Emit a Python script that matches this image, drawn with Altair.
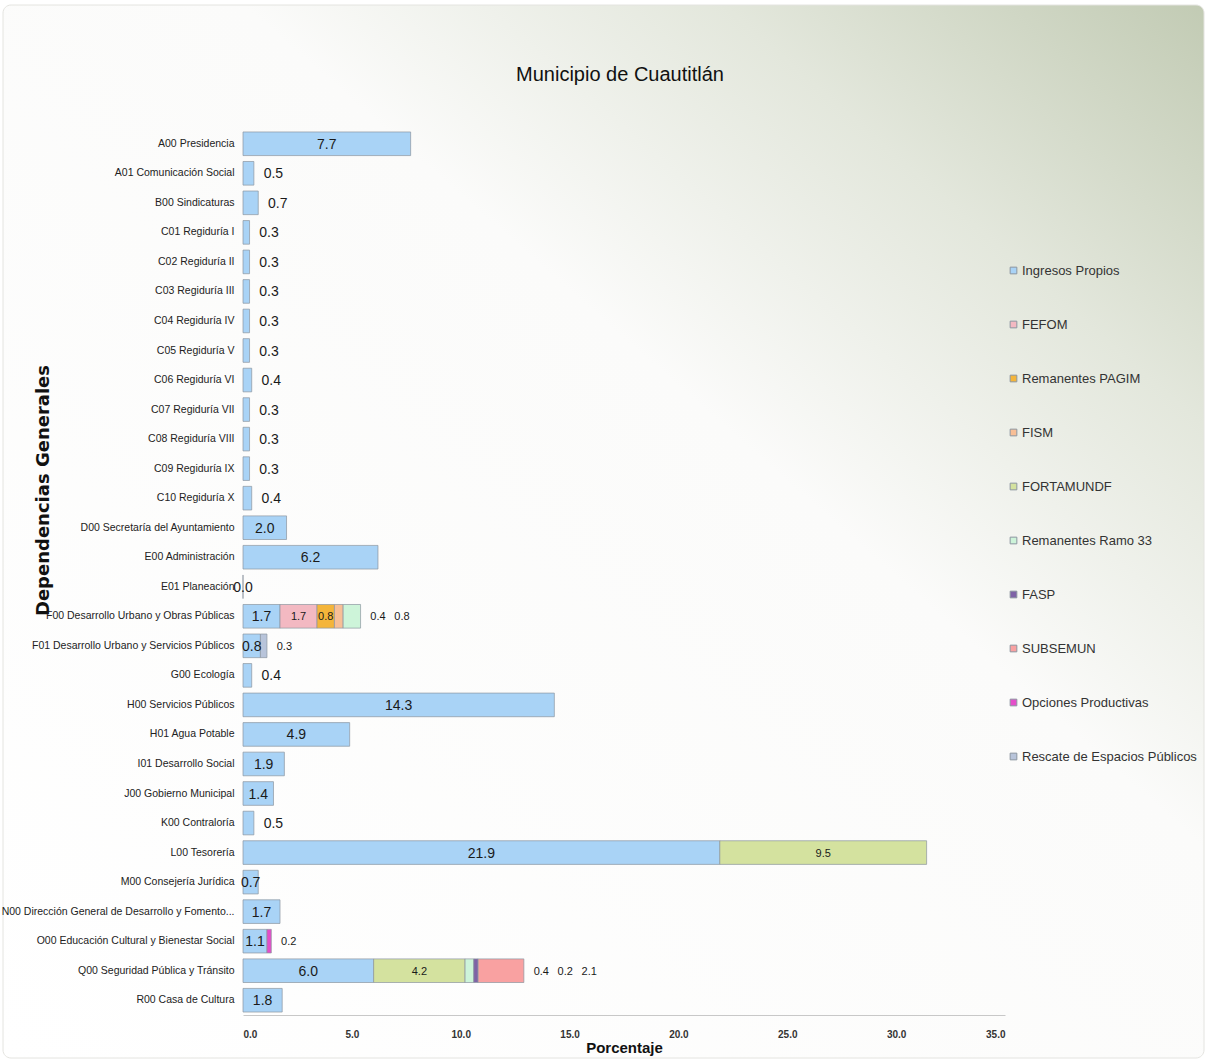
import altair as alt
import pandas as pd

# Dependencias (top to bottom)
dependencias = [
    "A00 Presidencia", "A01 Comunicación Social", "B00 Sindicaturas",
    "C01 Regiduría I", "C02 Regiduría II", "C03 Regiduría III", "C04 Regiduría IV",
    "C05 Regiduría V", "C06 Regiduría VI", "C07 Regiduría VII", "C08 Regiduría VIII",
    "C09 Regiduría IX", "C10 Regiduría X", "D00 Secretaría del Ayuntamiento",
    "E00 Administración", "E01 Planeación", "F00 Desarrollo Urbano y Obras Públicas",
    "F01 Desarrollo Urbano y Servicios Públicos", "G00 Ecología", "H00 Servicios Públicos",
    "H01 Agua Potable", "I01 Desarrollo Social", "J00 Gobierno Municipal",
    "K00 Contraloría", "L00 Tesorería", "M00 Consejería Jurídica",
    "N00 Dirección General de Desarrollo y Fomento...",
    "O00 Educación Cultural y Bienestar Social", "Q00 Seguridad Pública y Tránsito",
    "R00 Casa de Cultura",
]

# Ingresos Propios, one value per dependencia
ingresos_propios = [7.7, 0.5, 0.7, 0.3, 0.3, 0.3, 0.3, 0.3, 0.4, 0.3, 0.3, 0.3, 0.4, 2.0,
                    6.2, 0.0, 1.7, 0.8, 0.4, 14.3, 4.9, 1.9, 1.4, 0.5, 21.9, 0.7, 1.7,
                    1.1, 6.0, 1.8]

# Other funding sources (only where present)
fefom = {"F00": 1.7}
remanentes_pagim = {"F00": 0.8}
fism = {"F00": 0.4}
fortamundf = {"L00": 9.5, "Q00": 4.2}
remanentes_ramo33 = {"F00": 0.8, "Q00": 0.4}
fasp = {"Q00": 0.2}
subsemun = {"Q00": 2.1}
opciones_productivas = {"O00": 0.2}
rescate_espacios = {"F01": 0.3}

series = [
    ("Ingresos Propios", dict(zip([d[:3] for d in dependencias], ingresos_propios))),
    ("FEFOM", fefom),
    ("Remanentes PAGIM", remanentes_pagim),
    ("FISM", fism),
    ("FORTAMUNDF", fortamundf),
    ("Remanentes Ramo 33", remanentes_ramo33),
    ("FASP", fasp),
    ("SUBSEMUN", subsemun),
    ("Opciones Productivas", opciones_productivas),
    ("Rescate de Espacios Públicos", rescate_espacios),
]
colores = ["#A9D3F6", "#F3B9C2", "#F4B53A", "#F8BF96", "#D4E29F",
           "#CDF4D9", "#7E62A6", "#F9A1A1", "#E44EC9", "#B8C4DA"]

# labels drawn beside the bar instead of centred on the segment
beside_ingresos = {"A01", "B00", "C01", "C02", "C03", "C04", "C05", "C06", "C07",
                   "C08", "C09", "C10", "G00", "K00"}
centred_other = {("F00", "FEFOM"), ("F00", "Remanentes PAGIM"),
                 ("L00", "FORTAMUNDF"), ("Q00", "FORTAMUNDF")}

rows = []
labels = []
for dep in dependencias:
    code = dep[:3]
    start = 0.0
    segs = []
    for name, vals in series:
        if code in vals:
            v = vals[code]
            segs.append((name, v, start, start + v))
            start += v
    total = start
    k = 0
    for name, v, s, e in segs:
        rows.append({"dep": dep, "serie": name, "valor": v, "x0": s, "x1": e})
        big = name == "Ingresos Propios"
        if (big and code not in beside_ingresos) or (code, name) in centred_other:
            labels.append({"dep": dep, "txt": f"{v:.1f}", "lx": (s + e) / 2,
                           "align": "center", "fs": 14 if big else 11})
        else:
            labels.append({"dep": dep, "txt": f"{v:.1f}", "lx": total + 0.45 + k * 1.1,
                           "align": "left", "fs": 14 if big else 11})
            k += 1

df = pd.DataFrame(rows)
lab_in = pd.DataFrame([l for l in labels if l["align"] == "center"])
lab_out = pd.DataFrame([l for l in labels if l["align"] == "left"])

FONT = "Liberation Sans"
W, H = 762, 886
TITULO = "Municipio de Cuautitlán"

y_enc = alt.Y("dep:N", sort=dependencias, title="Dependencias Generales",
              scale=alt.Scale(paddingInner=0.2, paddingOuter=0.1),
              axis=alt.Axis(labelFont=FONT, labelFontSize=10.5, labelColor="#222222",
                            labelPadding=9, labelLimit=400, ticks=False, domain=False,
                            titleFont="DejaVu Sans", titleFontSize=18,
                            titleFontWeight="bold", titleColor="#111111",
                            titleAngle=270, titleAlign="center",
                            titleBaseline="middle", titleX=-200, titleY=361,
                            zindex=1))

x_scale = alt.Scale(domain=[0, 35], nice=False)

# page background with a soft grey-green corner
background = alt.Chart(alt.Data(values=[{}])).mark_rect(
    color=alt.Gradient(
        gradient="linear", x1=0, y1=1, x2=1, y2=0,
        stops=[alt.GradientStop(offset=0, color="#ffffff"),
               alt.GradientStop(offset=0.6, color="#fbfbfa"),
               alt.GradientStop(offset=0.8, color="#e3e7dc"),
               alt.GradientStop(offset=1, color="#c2cbb4")]),
    stroke="#e4e4e0", strokeWidth=1, cornerRadius=8,
).encode(x=alt.value(-240), x2=alt.value(W + 199),
         y=alt.value(-124), y2=alt.value(H + 43))

titulo = alt.Chart(alt.Data(values=[{}])).mark_text(
    font=FONT, fontSize=20, color="#111111", align="center", baseline="middle",
).encode(x=alt.value(W / 2 - 4), y=alt.value(-54), text=alt.value(TITULO))

bars = alt.Chart(df).mark_bar(stroke="#8c96a0", strokeWidth=1, strokeOpacity=0.7).encode(
    y=y_enc,
    x=alt.X("x0:Q", scale=x_scale, title="Porcentaje",
            axis=alt.Axis(values=[0, 5, 10, 15, 20, 25, 30, 35], format=".1f",
                          grid=False, ticks=False, domainColor="#c8c8c8",
                          labelFont=FONT, labelFontSize=10, labelFontWeight="bold",
                          labelColor="#333333", labelPadding=14,
                          titleFont=FONT, titleFontSize=15, titleFontWeight="bold",
                          titleColor="#111111", titleBaseline="middle", titleY=32,
                          zindex=1)),
    x2="x1:Q",
    color=alt.Color("serie:N", sort=[s[0] for s in series],
                    scale=alt.Scale(domain=[s[0] for s in series], range=colores),
                    legend=alt.Legend(title=None, orient="none", legendX=764, legendY=135,
                                      labelFont=FONT, labelFontSize=13, labelOffset=2,
                                      labelColor="#333333", symbolType="square",
                                      symbolSize=45, symbolStrokeWidth=1,
                                      rowPadding=40, labelLimit=300, zindex=1)),
)

text_in = alt.Chart(lab_in).mark_text(font=FONT, color="#1a1a1a", align="center",
                                      baseline="middle", dy=1).encode(
    y=alt.Y("dep:N", sort=dependencias),
    x=alt.X("lx:Q", scale=x_scale),
    text="txt:N",
    size=alt.Size("fs:Q", scale=None),
)

text_out = alt.Chart(lab_out).mark_text(font=FONT, color="#1a1a1a", align="left",
                                        baseline="middle", dy=1).encode(
    y=alt.Y("dep:N", sort=dependencias),
    x=alt.X("lx:Q", scale=x_scale),
    text="txt:N",
    size=alt.Size("fs:Q", scale=None),
)

chart = alt.layer(background, titulo, bars, text_in, text_out).properties(
    width=W, height=H,
    autosize=alt.AutoSizeParams(type="none"),
    padding={"left": 243, "top": 129, "right": 201, "bottom": 44},
).configure_view(stroke=None).configure(background="#ffffff")

chart.save("out.html", embed_options={"renderer": "svg", "actions": False})
